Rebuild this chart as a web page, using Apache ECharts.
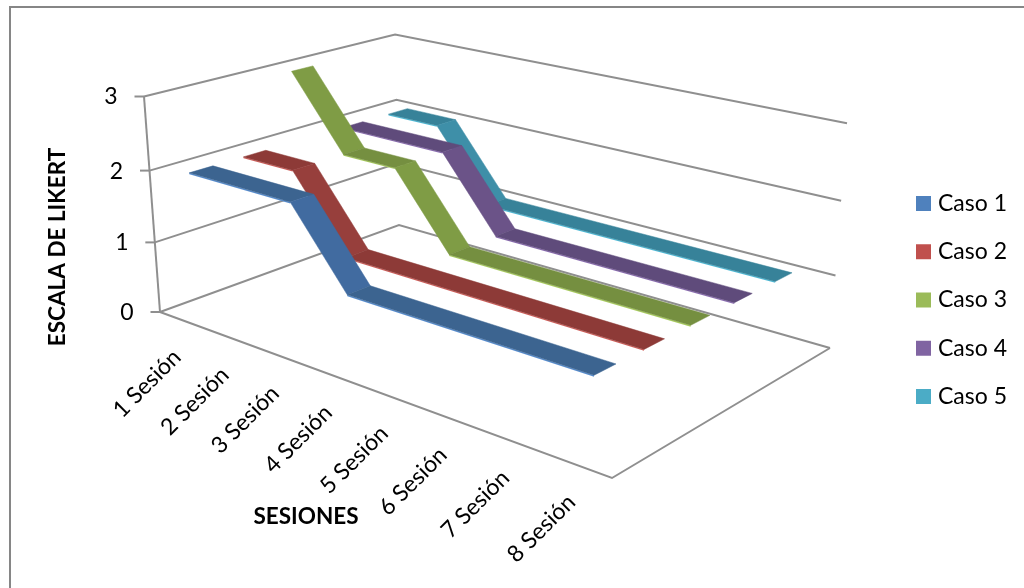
<!DOCTYPE html>
<html>
<head>
<meta charset="utf-8">
<style>html,body{margin:0;padding:0;background:#fff}#chart{width:1024px;height:588px}</style>
<script src="https://cdn.jsdelivr.net/npm/echarts@6/dist/echarts.min.js"></script>
</head>
<body>
<div id="chart"></div>
<script>
// Sessions, scale ticks and one array of Likert scores per case
const sessions = ['1 Sesión','2 Sesión','3 Sesión','4 Sesión','5 Sesión','6 Sesión','7 Sesión','8 Sesión'];
const valueTicks = [0,1,2,3];
const caseNames = ['Caso 1','Caso 2','Caso 3','Caso 4','Caso 5'];
const caso1 = [2,2,2,1,1,1,1,1];
const caso2 = [2,2,1,1,1,1,1,1];
const caso3 = [3,2,2,1,1,1,1,1];
const caso4 = [2,2,2,1,1,1,1,1];
const caso5 = [2,2,1,1,1,1,1,1];
const caseValues = [caso1,caso2,caso3,caso4,caso5];

// Shades per case: legend swatch / level ribbon / sloped ribbon / lit lower edge
const legendColors = ['#4f81bd','#c0504d','#9bbb59','#8064a2','#4bacc6'];
const levelColors  = ['#3c6490','#8d3a37','#758f40','#5f4b7b','#378299'];
const slopeColors  = ['#416ba0','#973f3c','#7f9c45','#6b5388','#3e8fa8'];
const edgeColors   = ['#5a8fd0','#d0605c','#a9cc60','#8e70b4','#52bdd9'];
const axisColor = '#8f8f8f';
const textFont = 'Lato, "Open Sans", sans-serif';

// Perspective camera: floor corners plus two corners of the top plane
const floorQuad = [[160,312],[612,478],[830,348],[399,225]];
const topFrontLeft = [144,96.5];
const topBackRight = [847,122.5];

const camera = (function () {
  const [p0,p1,p2,p3] = floorQuad;
  const dx1 = p1[0]-p2[0], dx2 = p3[0]-p2[0], sx = p0[0]-p1[0]+p2[0]-p3[0];
  const dy1 = p1[1]-p2[1], dy2 = p3[1]-p2[1], sy = p0[1]-p1[1]+p2[1]-p3[1];
  const den = dx1*dy2 - dx2*dy1;
  const g = (sx*dy2 - dx2*sy)/den, h = (dx1*sy - sx*dy1)/den;
  const a = p1[0]-p0[0]+g*p1[0], b = p3[0]-p0[0]+h*p3[0], c = p0[0];
  const d = p1[1]-p0[1]+g*p1[1], e = p3[1]-p0[1]+h*p3[1], f = p0[1];
  const ax = topFrontLeft[0], ay = topFrontLeft[1], cx = topBackRight[0];
  const r = (cx*(g+h+1) - a - b - ax) / (ax - cx);
  const p = ax*(1+r) - c, q = ay*(1+r) - f;
  return function (u, w, t) {
    const k = g*u + h*w + r*t + 1;
    return [(a*u + b*w + p*t + c)/k, (d*u + e*w + q*t + f)/k];
  };
})();

// Converts a value on the hidden cartesian axes to a point of the box
function boxPoint(params, api, session, value) {
  const cs = params.coordSys;
  const px = api.coord([session, value]);
  return [(px[0]-cs.x)/cs.width, (cs.y+cs.height-px[1])/cs.height];
}

const ribbonHalfDepth = 0.043;
const ribbonThickness = 0.018;

function ribbonSeries(caseIdx) {
  const values = caseValues[caseIdx];
  const wFront = (caseIdx+0.5)/caseNames.length - ribbonHalfDepth;
  const wBack  = (caseIdx+0.5)/caseNames.length + ribbonHalfDepth;
  return {
    type: 'custom',
    name: caseNames[caseIdx],
    z: 10 + caseNames.length - caseIdx,
    silent: true,
    animation: false,
    itemStyle: { color: legendColors[caseIdx] },
    encode: { x: 0, y: 1 },
    data: values.map((v, i) => [i, v]),
    renderItem(params, api) {
      const i = params.dataIndex;
      if (i >= values.length - 1) return null;
      const level = values[i] === values[i+1];
      // A run of equal scores is one flat strip, drawn from its first session
      if (level && i > 0 && values[i-1] === values[i]) return null;
      let end = i + 1;
      while (level && end < values.length - 1 && values[end+1] === values[i]) end++;
      const [u0, t0] = boxPoint(params, api, i, values[i]);
      const [u1, t1] = boxPoint(params, api, end, values[end]);
      const fill = level ? levelColors[caseIdx] : slopeColors[caseIdx];
      const children = [];
      if (level) {
        const dt = ribbonThickness/3;
        children.push({
          type: 'polygon',
          shape: { points: [camera(u0,wFront,t0), camera(u1,wFront,t1), camera(u1,wFront,t1-dt), camera(u0,wFront,t0-dt)] },
          style: { fill: edgeColors[caseIdx] }
        });
      }
      children.push({
        type: 'polygon',
        shape: { points: [camera(u0,wFront,t0), camera(u1,wFront,t1), camera(u1,wBack,t1), camera(u0,wBack,t0)] },
        style: { fill: fill, stroke: fill, lineWidth: 0.5 }
      });
      return { type: 'group', children: children };
    }
  };
}

// Walls, floor and scale ticks, one item per tick of the value axis
const wallSeries = {
  type: 'custom',
  silent: true,
  animation: false,
  z: 2,
  encode: { y: 0 },
  data: valueTicks.map(v => [v]),
  renderItem(params, api) {
    const cs = params.coordSys;
    const v = api.value(0);
    const t = (cs.y + cs.height - api.coord([0, v])[1]) / cs.height;
    const line = { stroke: axisColor, lineWidth: 2, fill: null };
    const front = camera(0,0,t), back = camera(0,1,t), right = camera(1,1,t);
    const children = [
      { type: 'polyline', shape: { points: [front, back, right] }, style: line },
      { type: 'line', shape: { x1: front[0]-9.5, y1: front[1], x2: front[0], y2: front[1] }, style: line },
      { type: 'text', x: front[0]-33, y: front[1]+0.5,
        style: { text: String(v), fill: '#000', fontSize: 23, fontFamily: textFont, align: 'center', verticalAlign: 'middle' } }
    ];
    if (v === valueTicks[0]) {
      children.push({ type: 'polyline', shape: { points: [front, camera(1,0,t), right] }, style: line });
      children.push({ type: 'line', shape: { x1: front[0], y1: front[1], x2: camera(0,0,1)[0], y2: camera(0,0,1)[1] }, style: line });
    }
    return { type: 'group', children: children };
  }
};

// Session names set at 45 degrees below the front edge of the floor
const sessionLabelSeries = {
  type: 'custom',
  silent: true,
  animation: false,
  z: 3,
  encode: { x: 0 },
  data: sessions.map((s, i) => [i]),
  renderItem(params, api) {
    const i = params.dataIndex;
    const [u] = boxPoint(params, api, i, 0);
    const p = camera(u, 0, 0);
    return {
      type: 'text',
      x: p[0]-6, y: p[1]+33,
      rotation: Math.PI/4,
      style: { text: sessions[i], fill: '#000', fontSize: 23, fontFamily: textFont, align: 'right', verticalAlign: 'middle' }
    };
  }
};

const chart = echarts.init(document.getElementById('chart'), null, { renderer: 'canvas' });
chart.setOption({
  animation: false,
  backgroundColor: '#fff',
  grid: { left: 100, top: 100, width: 800, height: 300, containLabel: false },
  xAxis: { type: 'category', data: sessions, show: false },
  yAxis: { type: 'value', min: 0, max: 3, interval: 1, show: false },
  legend: {
    data: caseNames,
    orient: 'vertical',
    left: 916,
    top: 192,
    padding: 0,
    itemWidth: 15,
    itemHeight: 15,
    itemGap: 25.25,
    selectedMode: false,
    icon: 'rect',
    textStyle: { color: '#000', fontSize: 23, fontFamily: textFont, padding: [0,0,0,2] }
  },
  graphic: [
    { type: 'polyline', silent: true, shape: { points: [[10,588],[10,7],[1024,7]] }, style: { stroke: '#868686', lineWidth: 2, fill: null } },
    { type: 'text', silent: true, x: 58, y: 247, rotation: Math.PI/2,
      style: { text: 'ESCALA DE LIKERT', fill: '#000', fontSize: 22.5, fontWeight: 'bold', fontFamily: textFont, align: 'center', verticalAlign: 'middle' } },
    { type: 'text', silent: true, x: 306, y: 517,
      style: { text: 'SESIONES', fill: '#000', fontSize: 22.5, fontWeight: 'bold', fontFamily: textFont, align: 'center', verticalAlign: 'middle' } }
  ],
  series: [wallSeries, sessionLabelSeries].concat(caseNames.map((n, i) => ribbonSeries(i)))
});
</script>
</body>
</html>
